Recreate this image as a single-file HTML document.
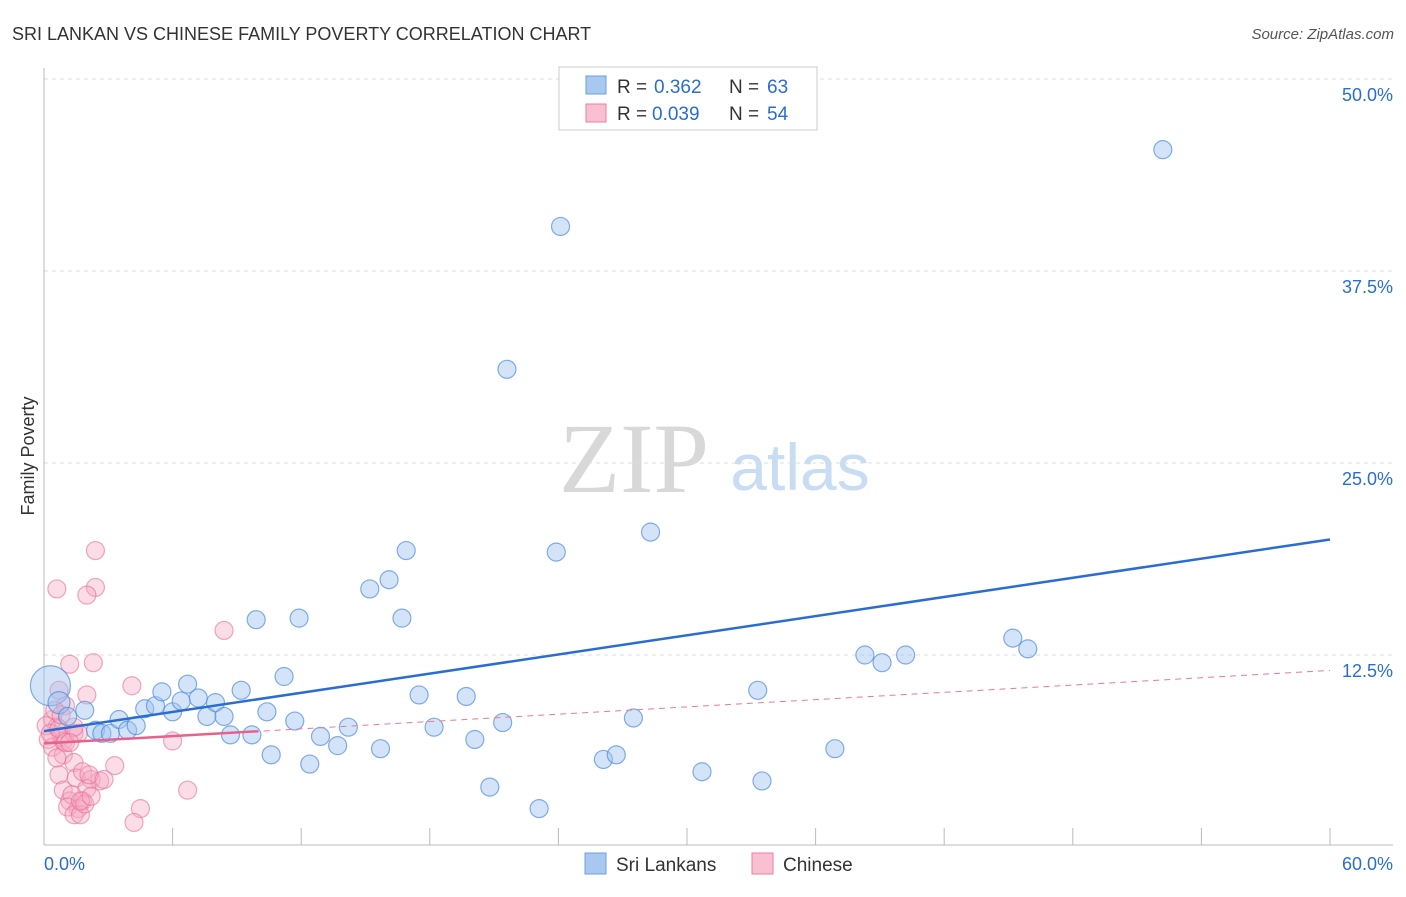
<!DOCTYPE html>
<html><head><meta charset="utf-8"><style>
body{margin:0;background:#fff;font-family:"Liberation Sans",sans-serif}
</style></head><body>
<svg id="c" width="1406" height="892" xmlns="http://www.w3.org/2000/svg" font-family="Liberation Sans, sans-serif">
<text x="12" y="40" font-size="18" fill="#333">SRI LANKAN VS CHINESE FAMILY POVERTY CORRELATION CHART</text>
<text x="1394" y="39" font-size="15" fill="#555" font-style="italic" text-anchor="end">Source: ZipAtlas.com</text>
<text x="634" y="492" font-size="100" fill="#d8d8d8" style="font-family:'Liberation Serif',serif" text-anchor="middle">ZIP</text>
<text x="800" y="490" font-size="66" fill="#c8dcf3" text-anchor="middle">atlas</text>
<text transform="translate(34,456) rotate(-90)" font-size="18" fill="#333" text-anchor="middle">Family Poverty</text>
<g id="grid"></g><g id="pts"></g><g id="lines"></g>
<g>
<rect x="559" y="67" width="258" height="63" fill="#fff" stroke="#ccc"/>
<rect x="586" y="76" width="20" height="18" fill="#a8c8f0" stroke="#6a9fe0"/>
<rect x="586" y="104" width="20" height="18" fill="#f8c0d0" stroke="#e87fa0"/>
<text x="617" y="93" font-size="19" fill="#333">R =</text>
<text x="654" y="93" font-size="19" fill="#2a6dd2">0.362</text>
<text x="729" y="93" font-size="19" fill="#333">N =</text>
<text x="767" y="93" font-size="19" fill="#2a6dd2">63</text>
<text x="617" y="120" font-size="19" fill="#333">R =</text>
<text x="652" y="120" font-size="19" fill="#2a6dd2">0.039</text>
<text x="729" y="120" font-size="19" fill="#333">N =</text>
<text x="767" y="120" font-size="19" fill="#2a6dd2">54</text>
</g>
<g>
<rect x="585" y="853" width="21" height="21" fill="#a8c8f0" stroke="#6a9fe0"/>
<text x="616" y="871" font-size="19" fill="#333">Sri Lankans</text>
<rect x="752" y="853" width="21" height="21" fill="#f8c0d0" stroke="#e87fa0"/>
<text x="783" y="871" font-size="19" fill="#333">Chinese</text>
</g>
</svg>
<script>
const blueX=[0.3,0.7,1.1,1.9,2.4,2.7,3.1,3.5,3.9,4.3,4.7,5.2,5.5,6.0,6.4,6.7,7.2,7.6,8.0,8.4,8.7,9.2,9.7,9.9,10.4,10.6,11.2,11.7,11.9,12.4,12.9,13.7,14.2,15.2,15.7,16.1,16.7,16.9,17.5,18.2,19.7,20.1,20.8,21.4,21.6,23.1,23.9,24.1,26.1,26.7,27.5,28.3,30.7,33.3,33.5,36.9,38.3,39.1,40.2,45.2,45.9,52.2];
const blueY=[10.5,9.4,8.5,8.9,7.6,7.4,7.4,8.3,7.6,7.9,9.0,9.2,10.1,8.8,9.5,10.6,9.7,8.5,9.4,8.5,7.3,10.2,7.3,14.8,8.8,6.0,11.1,8.2,14.9,5.4,7.2,6.6,7.8,16.8,6.4,17.4,14.9,19.3,9.9,7.8,9.8,7.0,3.9,8.1,31.1,2.5,19.2,40.4,5.7,6.0,8.4,20.5,4.9,10.2,4.3,6.4,12.5,12.0,12.5,13.6,12.9,45.4];
const blueR=[20,11,9,9,9,9,9,9,9,9,9,9,9,9,9,9,9,9,9,9,9,9,9,9,9,9,9,9,9,9,9,9,9,9,9,9,9,9,9,9,9,9,9,9,9,9,9,9,9,9,9,9,9,9,9,9,9,9,9,9,9,9];
const pinkX=[0.6,2.4,2.4,2.0,8.4,1.2,2.3,4.1,0.7,2.0,1.0,0.4,0.6,0.8,0.2,0.4,0.9,1.4,0.9,1.4,0.7,1.5,1.8,2.2,2.6,3.3,0.9,1.2,2.0,1.3,1.8,1.6,1.1,1.4,1.7,1.9,4.5,4.2,6.0,6.7,0.1,0.3,0.7,1.0,1.6,2.1,2.8,0.5,0.8,1.4,1.2,0.6,1.7,2.2];
const pinkY=[16.8,19.3,16.9,16.4,14.1,11.9,12.0,10.5,10.2,9.9,9.2,8.3,7.8,7.2,7.0,6.5,6.9,7.4,6.0,5.5,4.7,4.5,4.9,4.4,4.3,5.3,3.7,3.0,3.8,3.4,3.0,2.5,2.6,2.1,2.1,2.8,2.5,1.6,6.9,3.7,7.9,7.4,7.7,6.8,7.4,4.7,4.4,8.9,8.6,7.8,6.8,5.8,3.0,3.3];
const yTicks=[12.5,25.0,37.5,50.0];
const NS='http://www.w3.org/2000/svg';
const X0=44,X1=1330,Y0=847;
function sx(v){return X0+(v/60)*(X1-X0);}
function sy(v){return Y0-v*15.36;}
function mk(t,a,p){const e=document.createElementNS(NS,t);for(const k in a)e.setAttribute(k,a[k]);p.appendChild(e);return e;}
const grid=document.getElementById('grid');
yTicks.forEach(t=>{
 const l=mk('line',{x1:X0,x2:1393,y1:sy(t),y2:sy(t),stroke:'#ddd','stroke-dasharray':'4,4'},grid);
 
 
 const tx=mk('text',{x:1393,y:sy(t)+22,'font-size':18,fill:'#2a6dd2','text-anchor':'end'},grid);
 tx.textContent=t.toFixed(1)+'%';
 
 
});
mk('line',{x1:X0,x2:X0,y1:68,y2:845,stroke:'#bbb'},grid);
mk('line',{x1:X0,x2:1393,y1:845,y2:845,stroke:'#bbb'},grid);
for(let i=1;i<=10;i++){
 const l=mk('line',{x1:sx(i*6),x2:sx(i*6),y1:828,y2:845,stroke:'#bbb'},grid);
 
 
}
[[0,'0.0%','start',44],[60,'60.0%','end',1393]].forEach(d=>{
 const tx=mk('text',{x:d[3],y:870,'font-size':18,fill:'#2a6dd2','text-anchor':d[2]},grid);
 tx.textContent=d[1];
 
 
});
const pts=document.getElementById('pts');
pinkX.forEach((x,i)=>{
 const c=mk('circle',{cx:sx(x),cy:sy(pinkY[i]),r:9,fill:'rgba(245,170,195,0.4)',stroke:'rgba(232,110,150,0.6)','stroke-width':1.2},pts);
 
 
});
blueX.forEach((x,i)=>{
 const c=mk('circle',{cx:sx(x),cy:sy(blueY[i]),r:blueR[i],fill:'rgba(160,195,240,0.45)',stroke:'rgba(80,140,220,0.7)','stroke-width':1.2},pts);
 
 
});
function reg(xs,ys){const n=xs.length;let mx=0,my=0;xs.forEach((x,i)=>{mx+=x;my+=ys[i];});mx/=n;my/=n;let a=0,b=0;xs.forEach((x,i)=>{a+=(x-mx)*(ys[i]-my);b+=(x-mx)**2;});const s=a/b;return [s,my-s*mx];}
const lines=document.getElementById('lines');
const rb=reg(blueX,blueY);
const bl=mk('line',{x1:sx(0),y1:sy(rb[1]),x2:sx(60),y2:sy(rb[1]+rb[0]*60),stroke:'#2a6dd2','stroke-width':2.5},lines);


const rp=reg(pinkX,pinkY);
const pd=mk('line',{x1:sx(0),y1:sy(rp[1]),x2:sx(60),y2:sy(rp[1]+rp[0]*60),stroke:'#e8789c','stroke-width':1,'stroke-dasharray':'6,5'},lines);


const ps=mk('line',{x1:sx(0),y1:sy(rp[1]),x2:sx(10),y2:sy(rp[1]+rp[0]*10),stroke:'#e8608c','stroke-width':2.5},lines);


</script>
</body></html>
